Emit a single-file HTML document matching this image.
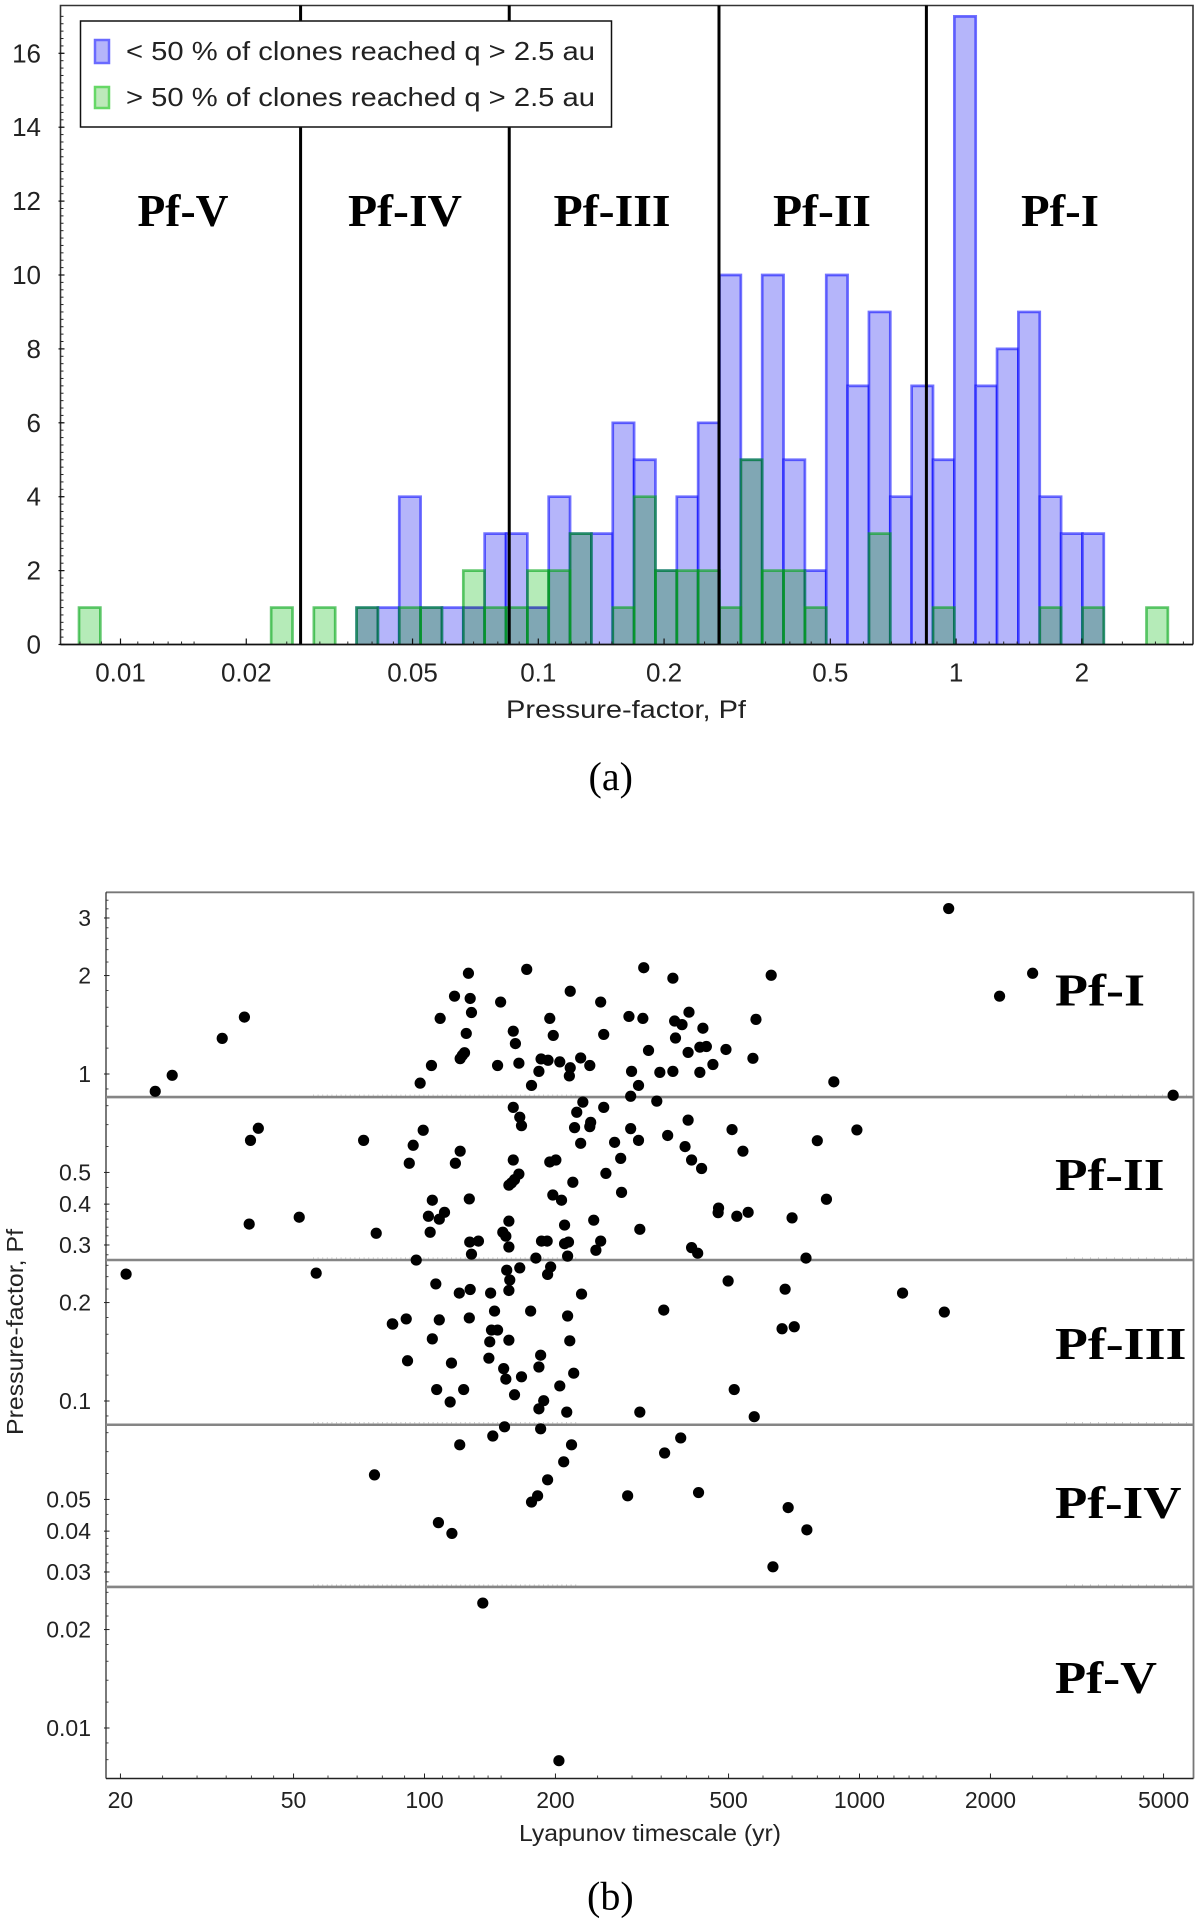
<!DOCTYPE html>
<html lang="en">
<head>
<meta charset="utf-8">
<title>Pressure-factor histogram and Lyapunov timescale scatter</title>
<style>
html,body{margin:0;padding:0;background:#fff;}
svg{display:block;}
text{font-family:"Liberation Sans",sans-serif;fill:#222;}
.serif{font-family:"Liberation Serif",serif;fill:#000;}
.region{font-family:"Liberation Serif",serif;font-weight:bold;font-size:46px;fill:#000;}
</style>
</head>
<body>
<svg id="figure" xmlns="http://www.w3.org/2000/svg" width="1200" height="1922" viewBox="0 0 1200 1922">
  <rect x="0" y="0" width="1200" height="1922" fill="#fff"/>
  <g id="panelA"></g>
  <g id="panelB"></g>

  <text class="region" x="137.5" y="226" textLength="91" lengthAdjust="spacingAndGlyphs">Pf-V</text>
  <text class="region" x="348" y="226" textLength="114" lengthAdjust="spacingAndGlyphs">Pf-IV</text>
  <text class="region" x="553.5" y="226" textLength="117" lengthAdjust="spacingAndGlyphs">Pf-III</text>
  <text class="region" x="773" y="226" textLength="98" lengthAdjust="spacingAndGlyphs">Pf-II</text>
  <text class="region" x="1021" y="226" textLength="78" lengthAdjust="spacingAndGlyphs">Pf-I</text>

  <g>
    <rect x="80.5" y="21" width="531" height="106" fill="#fff" stroke="#111" stroke-width="1.5"/>
    <path d="M95 63V40H109V63Z" fill="#b5b5fa" stroke="#6a6aff" stroke-width="2.5"/>
    <text x="126" y="60" font-size="26" textLength="469" lengthAdjust="spacingAndGlyphs">&lt; 50 % of clones reached q &gt; 2.5 au</text>
    <path d="M95 108V87H109V108Z" fill="#bde9ba" stroke="#66d866" stroke-width="2.5"/>
    <text x="126" y="106" font-size="26" textLength="469" lengthAdjust="spacingAndGlyphs">&gt; 50 % of clones reached q &gt; 2.5 au</text>
  </g>

  <text x="506" y="718" font-size="25" textLength="240" lengthAdjust="spacingAndGlyphs">Pressure-factor, Pf</text>
  <text class="serif" x="588.5" y="790" font-size="40">(a)</text>

  <text class="region" x="1055" y="1005.5" textLength="90" lengthAdjust="spacingAndGlyphs">Pf-I</text>
  <text class="region" x="1055" y="1190" textLength="109.5" lengthAdjust="spacingAndGlyphs">Pf-II</text>
  <text class="region" x="1055" y="1359" textLength="131.5" lengthAdjust="spacingAndGlyphs">Pf-III</text>
  <text class="region" x="1055" y="1518" textLength="126.5" lengthAdjust="spacingAndGlyphs">Pf-IV</text>
  <text class="region" x="1055" y="1693" textLength="102" lengthAdjust="spacingAndGlyphs">Pf-V</text>

  <text x="519" y="1841" font-size="23" textLength="262" lengthAdjust="spacingAndGlyphs">Lyapunov timescale (yr)</text>
  <text transform="translate(23,1435) rotate(-90)" x="0" y="0" font-size="23" textLength="206" lengthAdjust="spacingAndGlyphs">Pressure-factor, Pf</text>
  <text class="serif" x="587" y="1909.5" font-size="40">(b)</text>
</svg>

<script>
// ---------- Panel (a) data ----------
const binStartLog10Pf = -2.0993;
const binWidthLog10Pf = 0.0511;
const countsBelow50 = [0,0,0,0,0,0,0,0,0,0,0,0,0,1,1,4,1,1,1,3,3,1,4,3,3,6,5,2,4,6,10,5,10,5,2,10,7,9,4,7,5,17,7,8,9,4,3,3,0,0,0];
const countsAbove50 = [1,0,0,0,0,0,0,0,0,1,0,1,0,1,0,1,1,0,2,1,1,2,2,3,0,1,4,2,2,2,1,5,2,2,1,0,0,3,0,0,1,0,0,0,0,1,0,1,0,0,1];
const histXTickValues = [0.01,0.02,0.05,0.1,0.2,0.5,1,2];
const histXTickLabels = ['0.01','0.02','0.05','0.1','0.2','0.5','1','2'];
const histYTickValues = [0,2,4,6,8,10,12,14,16];
const regionBoundaries = [0.02698,0.0852,0.2707,0.849];

// ---------- Panel (b) data ----------
const log10Lyapunov = [
2.101,2.235,2.504,2.571,2.797,2.069,2.105,2.175,2.335,2.405,2.108,2.036,2.288,2.470,2.502,2.608,2.575,2.592,2.762,2.096,
2.204,2.209,2.296,2.412,2.577,2.640,2.092,2.087,2.082,2.016,2.168,2.217,2.268,2.284,2.311,2.359,2.380,2.335,2.263,2.333,
2.515,2.606,2.633,2.648,2.693,2.755,2.476,2.541,2.571,2.633,2.663,1.990,2.246,2.492,2.474,2.364,2.534,2.204,2.412,2.350,
2.219,2.223,2.382,2.380,2.345,2.606,2.474,2.707,1.997,2.492,2.559,2.359,2.437,1.974,2.599,2.082,2.732,2.451,2.204,2.302,
2.288,2.614,1.965,2.071,2.637,2.217,2.207,2.200,2.194,2.417,2.341,2.453,2.295,2.315,2.018,2.103,2.676,2.675,2.046,2.009,
2.034,2.744,2.718,2.845,2.194,2.389,2.322,2.495,2.013,2.180,2.187,2.104,2.124,2.269,2.282,2.322,2.331,2.405,2.194,2.394,
2.614,2.628,2.108,1.981,2.256,2.329,
2.189,2.219,2.290,2.283,2.196,2.194,2.026,2.080,2.105,2.152,2.361,2.698,2.829,2.161,2.244,2.550,1.958,1.926,2.034,2.103,
2.329,2.154,2.168,2.018,2.822,2.850,2.150,2.194,2.334,1.961,2.062,2.148,2.267,2.263,2.182,2.187,2.223,2.343,2.028,2.090,
2.059,2.207,2.311,2.712,2.274,2.263,2.327,2.495,2.758,2.184,2.267,2.157,2.081,2.338,2.589,2.552,2.320,2.283,2.260,2.246,
2.467,2.630,2.836,2.032,2.063,2.801,
1.586,1.535,1.420,1.381,1.618,1.600,1.860,1.597,1.712,1.889,
1.314,1.751,1.927,1.885,2.134,2.309,
2.903,2.924,2.877,2.941,2.994,3.205,3.398,3.322,3.721,3.099,3.195,2.879
];
const log10Pf = [
0.308,0.320,0.325,0.293,0.302,0.238,0.231,0.220,0.253,0.220,0.188,0.170,0.170,0.176,0.170,0.189,0.162,0.151,0.167,0.124,
0.131,0.093,0.118,0.121,0.110,0.140,0.065,0.057,0.047,0.026,0.026,0.033,0.046,0.042,0.037,0.049,0.026,0.019,0.008,-0.006,
0.072,0.066,0.082,0.084,0.075,0.048,0.008,0.005,0.008,0.005,0.029,-0.028,-0.035,-0.035,-0.068,-0.086,-0.083,-0.102,-0.102,-0.117,
-0.132,-0.158,-0.148,-0.161,-0.164,-0.141,-0.167,-0.170,-0.172,-0.203,-0.188,-0.212,-0.209,-0.218,-0.222,-0.236,-0.236,-0.258,-0.263,-0.263,
-0.269,-0.263,-0.273,-0.273,-0.289,-0.306,-0.323,-0.333,-0.340,-0.304,-0.331,-0.362,-0.370,-0.386,-0.386,-0.382,-0.410,-0.424,-0.423,-0.435,
-0.444,-0.423,-0.435,-0.440,-0.450,-0.447,-0.462,-0.475,-0.484,-0.484,-0.496,-0.514,-0.511,-0.511,-0.511,-0.519,-0.514,-0.511,-0.529,-0.539,
-0.531,-0.548,-0.551,-0.569,-0.563,-0.557,
-0.600,-0.593,-0.590,-0.613,-0.630,-0.662,-0.642,-0.670,-0.659,-0.670,-0.673,-0.633,-0.658,-0.725,-0.725,-0.722,-0.749,-0.764,-0.752,-0.746,
-0.740,-0.783,-0.783,-0.810,-0.779,-0.773,-0.819,-0.814,-0.816,-0.877,-0.884,-0.869,-0.860,-0.896,-0.901,-0.933,-0.926,-0.915,-0.965,-0.965,
-1.003,-0.981,-0.954,-0.965,-0.999,-1.024,-1.034,-1.034,-1.048,-1.079,-1.085,-1.107,-1.134,-1.134,-1.113,-1.159,-1.186,-1.241,-1.290,-1.309,
-1.290,-1.280,-1.326,-1.372,-1.405,-1.507,
0.174,0.109,-0.004,-0.053,-0.166,-0.203,-0.203,-0.459,-0.438,-0.487,
-0.612,-0.609,-0.765,-1.226,-1.618,-2.100,
-0.204,-0.383,-0.563,-0.024,-0.171,0.506,0.308,0.238,-0.065,-0.670,-0.728,-1.394
];
const scatterXTickValues = [20,50,100,200,500,1000,2000,5000];
const scatterXTickLabels = ['20','50','100','200','500','1000','2000','5000'];
const scatterYTickValues = [3,2,1,0.5,0.4,0.3,0.2,0.1,0.05,0.04,0.03,0.02,0.01];
const scatterYTickLabels = ['3','2','1','0.5','0.4','0.3','0.2','0.1','0.05','0.04','0.03','0.02','0.01'];
const thresholdValues = [0.850,0.2699,0.0846,0.0270];
const minorMantissaX = [1.1,1.2,1.3,1.4,1.5,2.5,3,3.5,4,4.5,6,7,8,9];
const minorMantissaY = [1.2,1.4,1.6,1.8,2.2,2.4,2.6,2.8,3.2,3.4,3.6,3.8,4.5,6,7,8,9];

// ---------- Axis functions ----------
const xALog = v => 120.5 + 417.8 * (v + 2);
const xA = v => xALog(Math.log10(v));
const yA = v => 644.5 - 36.95 * v;
const xBLog = v => 424.5 + 435 * (v - 2);
const xB = v => xBLog(Math.log10(v));
const yBLog = v => 1074 - 327 * v;
const yB = v => yBLog(Math.log10(v));

const NS = 'http://www.w3.org/2000/svg';
function make(parent, tag, attrs, txt) {
  const el = document.createElementNS(NS, tag);
  for (const k in attrs) el.setAttribute(k, attrs[k]);
  if (txt !== undefined) el.textContent = txt;
  parent.appendChild(el);
  return el;
}
const panelA = document.getElementById('panelA');
const panelB = document.getElementById('panelB');

// ---------- Panel (a) ----------
const A_LEFT = 60.5, A_RIGHT = 1193, A_TOP = 5.5, A_BOTTOM = 644.5;

const frameA = make(panelA, 'path', {d:`M${A_LEFT} ${A_BOTTOM}V${A_TOP}H${A_RIGHT}V${A_BOTTOM}`, fill:'none', stroke:'#333', 'stroke-width':1.6});



function barPath(i, count) {
  const x0 = xALog(binStartLog10Pf + i * binWidthLog10Pf);
  const x1 = xALog(binStartLog10Pf + (i + 1) * binWidthLog10Pf);
  return `M${x0} ${yA(0)}V${yA(count)}H${x1}V${yA(0)}`;
}
const blueGroup = make(panelA, 'g', {});


countsBelow50.forEach((c, i) => {
  if (!c) return;
  const b = make(blueGroup, 'path', {d:barPath(i, c), fill:'#b5b5fa', stroke:'rgba(0,0,255,0.55)', 'stroke-width':2.7});
  
  
});
const greenFillGroup = make(panelA, 'g', {style:'mix-blend-mode:multiply'});


countsAbove50.forEach((c, i) => {
  if (!c) return;
  const b = make(greenFillGroup, 'path', {d:barPath(i, c), fill:'#b5ebb8', stroke:'none'});
  
  
});
const greenEdgeGroup = make(panelA, 'g', {});


countsAbove50.forEach((c, i) => {
  if (!c) return;
  const b = make(greenEdgeGroup, 'path', {d:barPath(i, c), fill:'none', stroke:'rgba(0,165,20,0.6)', 'stroke-width':2.7});
  
  
});
regionBoundaries.forEach(v => {
  const l = make(panelA, 'line', {x1:xA(v), x2:xA(v), y1:A_TOP, y2:A_BOTTOM, stroke:'#000', 'stroke-width':3});
  
  
});
const baseA = make(panelA, 'line', {x1:A_LEFT, x2:A_RIGHT, y1:A_BOTTOM, y2:A_BOTTOM, stroke:'#111', 'stroke-width':1.8});



// x ticks panel a
for (let d = -3; d <= 0; d++) {
  minorMantissaX.forEach(m => {
    const lv = d + Math.log10(m);
    const px = xALog(lv);
    if (px < A_LEFT + 2 || px > A_RIGHT - 2) return;
    const t = make(panelA, 'line', {x1:px, x2:px, y1:A_BOTTOM, y2:A_BOTTOM - 3, stroke:'#222', 'stroke-width':1});
    
    
  });
}
histXTickValues.forEach((v, i) => {
  const t = make(panelA, 'line', {x1:xA(v), x2:xA(v), y1:A_BOTTOM, y2:A_BOTTOM - 6, stroke:'#111', 'stroke-width':1.2});
  
  
  const lb = make(panelA, 'text', {x:xA(v), y:681.5, 'font-size':26, 'text-anchor':'middle'}, histXTickLabels[i]);
  
  
});
// y ticks panel a
for (let k = 0; k <= 85; k++) {
  const v = k / 5;
  const t = make(panelA, 'line', {x1:A_LEFT, x2:A_LEFT + 3, y1:yA(v), y2:yA(v), stroke:'#222', 'stroke-width':1});
  
  
}
histYTickValues.forEach(v => {
  const t = make(panelA, 'line', {x1:A_LEFT - 2, x2:A_LEFT + 4, y1:yA(v), y2:yA(v), stroke:'#111', 'stroke-width':1.2});
  
  
  const lb = make(panelA, 'text', {x:41, y:yA(v) + 9, 'font-size':26, 'text-anchor':'end'}, String(v));
  
  
});

// ---------- Panel (b) ----------
const B_LEFT = 106, B_RIGHT = 1193.5, B_TOP = 892.3, B_BOTTOM = 1778.5;

const frameB = make(panelB, 'path', {d:`M${B_LEFT} ${B_TOP}H${B_RIGHT}V${B_BOTTOM}`, fill:'none', stroke:'#777', 'stroke-width':1.8});


const leftB = make(panelB, 'line', {x1:B_LEFT, x2:B_LEFT, y1:B_TOP, y2:B_BOTTOM, stroke:'#222', 'stroke-width':1.2});


const baseB = make(panelB, 'line', {x1:B_LEFT, x2:B_RIGHT, y1:B_BOTTOM, y2:B_BOTTOM, stroke:'#222', 'stroke-width':1.4});



thresholdValues.forEach(v => {
  const py = yB(v);
  const l = make(panelB, 'line', {x1:B_LEFT, x2:B_RIGHT, y1:py, y2:py, stroke:'#858585', 'stroke-width':2.6});
  
  
  const d1 = make(panelB, 'line', {x1:313, x2:577, y1:py - 2, y2:py - 2, stroke:'#bbb', 'stroke-width':1, 'stroke-dasharray':'1 3.6'});
  
  
  const d2 = make(panelB, 'line', {x1:1066, x2:1192, y1:py - 2, y2:py - 2, stroke:'#bbb', 'stroke-width':1, 'stroke-dasharray':'1 7'});
  
  
});

// x ticks panel b
for (let d = 1; d <= 3; d++) {
  minorMantissaX.forEach(m => {
    const px = xBLog(d + Math.log10(m));
    if (px < B_LEFT + 2 || px > B_RIGHT - 2) return;
    const t = make(panelB, 'line', {x1:px, x2:px, y1:B_BOTTOM, y2:B_BOTTOM - 3, stroke:'#333', 'stroke-width':0.9});
    
    
  });
}
scatterXTickValues.forEach((v, i) => {
  const t = make(panelB, 'line', {x1:xB(v), x2:xB(v), y1:B_BOTTOM, y2:B_BOTTOM - 5, stroke:'#222', 'stroke-width':1});
  
  
  const lb = make(panelB, 'text', {x:xB(v), y:1808, 'font-size':23, 'text-anchor':'middle'}, scatterXTickLabels[i]);
  
  
});
// y ticks panel b
for (let d = -3; d <= 0; d++) {
  minorMantissaY.forEach(m => {
    const py = yBLog(d + Math.log10(m));
    if (py < B_TOP + 2 || py > B_BOTTOM - 2) return;
    const t = make(panelB, 'line', {x1:B_LEFT, x2:B_LEFT + 2.5, y1:py, y2:py, stroke:'#333', 'stroke-width':0.9});
    
    
  });
}
scatterYTickValues.forEach((v, i) => {
  const t = make(panelB, 'line', {x1:B_LEFT - 2, x2:B_LEFT + 3.5, y1:yB(v), y2:yB(v), stroke:'#222', 'stroke-width':1});
  
  
  const lb = make(panelB, 'text', {x:91, y:yB(v) + 8, 'font-size':23, 'text-anchor':'end'}, scatterYTickLabels[i]);
  
  
});

// points
const pointsGroup = make(panelB, 'g', {});


log10Lyapunov.forEach((v, i) => {
  const c = make(pointsGroup, 'circle', {cx:xBLog(v), cy:yBLog(log10Pf[i]), r:5.6, fill:'#000'});
  
  
});
</script>
</body>
</html>
